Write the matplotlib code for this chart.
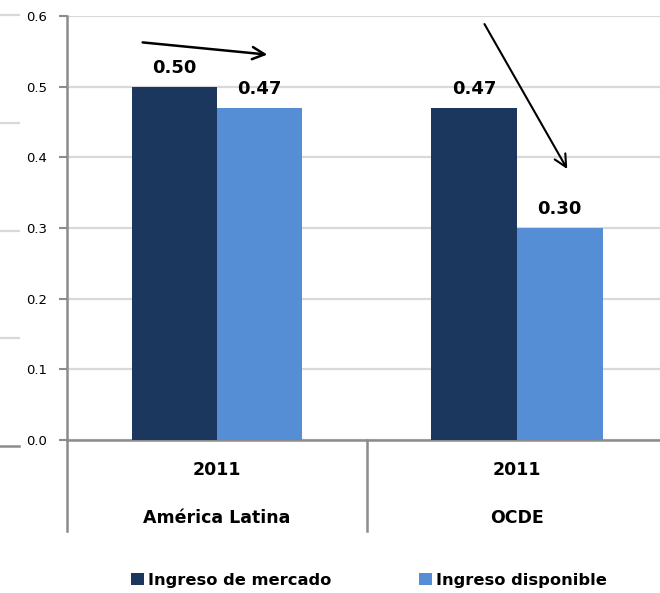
import matplotlib
matplotlib.use("Agg")
import matplotlib.pyplot as plt
from matplotlib.lines import Line2D
from matplotlib.patches import Patch
from matplotlib.transforms import blended_transform_factory

plt.rcParams['font.family'] = ['DejaVu Sans']

# Datos
regiones = ['América Latina', 'OCDE']
anios = ['2011', '2011']
series = ['Ingreso de mercado', 'Ingreso disponible']
ingreso_mercado = [0.50, 0.47]
ingreso_disponible = [0.47, 0.30]
colores = ['#1B375D', '#558ED5']
yticks = [0.0, 0.1, 0.2, 0.3, 0.4, 0.5, 0.6]

W, H = 660, 593
fig = plt.figure(figsize=(W / 100, H / 100), dpi=100)

# ejes: borde izquierdo en x=67 px, cero en y=440 px, 0.6 en y=16 px
ax = fig.add_axes([67 / W, 1 - 440 / H, 1 - 67 / W, (440 - 16) / H])
ax.set_xlim(0, (W - 67) / 300)
ax.set_ylim(0, 0.6)

ancho = 0.285
centros = [0.5, 1.5]
valores = [ingreso_mercado, ingreso_disponible]
for j, vals in enumerate(valores):
    xs = [c + (j - 0.5) * ancho for c in centros]
    ax.bar(xs, vals, width=ancho, color=colores[j], zorder=3, edgecolor='none')
    for x, v in zip(xs, vals):
        ax.annotate(f'{v:.2f}', (x, v), xytext=(0, 7), textcoords='offset points',
                    ha='center', va='bottom', fontsize=13, fontweight='bold')

# cuadrícula y ejes
gris = '#8C8C8C'
ax.set_yticks(yticks)
ax.set_yticklabels([f'{t:.1f}' for t in yticks], fontsize=9.5)
ax.yaxis.grid(True, color='#D9D9D9', linewidth=1.6, zorder=0)
ax.set_axisbelow(True)
ax.tick_params(axis='y', length=6, width=1.5, color=gris, pad=8.5)
ax.set_xticks([])
for lado in ['top', 'right']:
    ax.spines[lado].set_visible(False)
for lado in ['left', 'bottom']:
    ax.spines[lado].set_color(gris)
    ax.spines[lado].set_linewidth(1.8)

# etiquetas de categoría en dos niveles
tr = blended_transform_factory(ax.transData, fig.transFigure)
for c, anio, reg in zip(centros, anios, regiones):
    ax.text(c, 1 - 470 / H, anio, transform=tr, ha='center', va='center',
            fontsize=12.5, fontweight='bold')
    ax.text(c, 1 - 518 / H, reg, transform=tr, ha='center', va='center',
            fontsize=12.5, fontweight='bold')
for xsep in [0, 1]:
    fig.add_artist(Line2D([xsep, xsep], [1 - 440 / H, 1 - 531 / H], transform=tr,
                          color=gris, linewidth=1.8))

# flechas
ax.annotate('', xy=(0.677, 0.545), xytext=(0.243, 0.563),
            arrowprops=dict(arrowstyle='->', color='black', lw=1.8,
                            mutation_scale=22))
ax.annotate('', xy=(1.672, 0.38), xytext=(1.387, 0.592),
            arrowprops=dict(arrowstyle='->', color='black', lw=1.5,
                            mutation_scale=22))

# restos de otra gráfica en el borde izquierdo
for py in [15, 123, 231, 338]:
    fig.add_artist(Line2D([0, 19 / W], [1 - py / H, 1 - py / H], color='#D9D9D9',
                          linewidth=1.6))
fig.add_artist(Line2D([0, 19 / W], [1 - 446 / H, 1 - 446 / H], color=gris,
                      linewidth=1.8))

# leyenda
handles = [Patch(facecolor=colores[0]), Patch(facecolor=colores[1])]
fig.legend(handles, series, loc='center', bbox_to_anchor=(369 / W, 1 - 580 / H),
           ncol=2, frameon=False, handlelength=0.8, handleheight=0.8,
           handletextpad=0.25, columnspacing=5.4,
           prop=dict(size=11.7, weight='bold'))

fig.savefig('out.png', dpi=100)
